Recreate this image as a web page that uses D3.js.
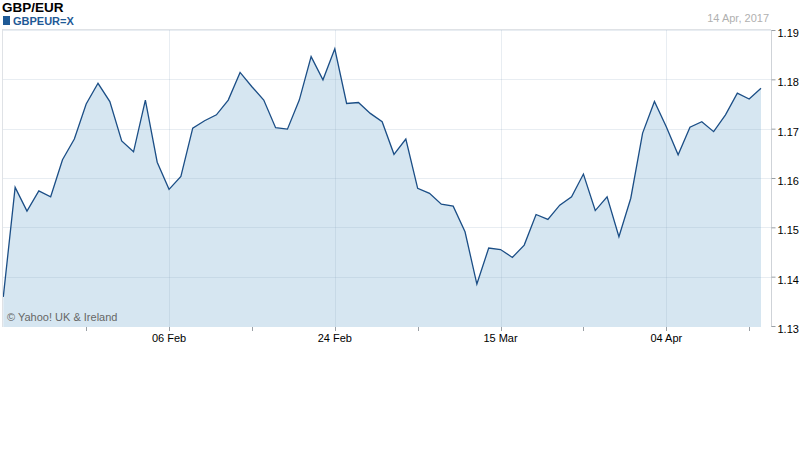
<!DOCTYPE html>
<html>
<head>
<meta charset="utf-8">
<script src="https://cdn.jsdelivr.net/npm/d3@7"></script>
<style>
  html, body { margin: 0; padding: 0; background: #fff; }
  svg { display: block; font-family: "Liberation Sans", Arial, sans-serif; }
</style>
</head>
<body>
<svg id="chart" width="800" height="475"></svg>
<script>
// ---- data ----
const title = "GBP/EUR";
const seriesName = "GBPEUR=X";
const dateLabel = "14 Apr, 2017";
const credit = "\u00A9 Yahoo! UK & Ireland";

// daily closes, index 0..64
const values = [
  1.1359, 1.1581, 1.1533, 1.1574, 1.1562, 1.1637, 1.1679, 1.1750, 1.1792, 1.1755,
  1.1675, 1.1653, 1.1758, 1.1632, 1.1577, 1.1603, 1.1701, 1.1716, 1.1728, 1.1758,
  1.1814, 1.1785, 1.1758, 1.1702, 1.1699, 1.1758, 1.1846, 1.1799, 1.1862, 1.1751,
  1.1753, 1.1731, 1.1714, 1.1648, 1.1679, 1.1579, 1.1569, 1.1547, 1.1543, 1.1491,
  1.1385, 1.1458, 1.1455, 1.1439, 1.1464, 1.1526, 1.1516, 1.1545, 1.1562, 1.1608,
  1.1534, 1.1562, 1.1481, 1.1559, 1.1691, 1.1755, 1.1704, 1.1647, 1.1703, 1.1714,
  1.1694, 1.1728, 1.1772, 1.1760, 1.1782
];

const yTicks = [1.13, 1.14, 1.15, 1.16, 1.17, 1.18, 1.19];
const xMinorTicks = [7, 14, 21, 28, 35, 42, 49, 56, 63];
const xLabelTicks = [14, 28, 42, 56];
const xLabels = ["06 Feb", "24 Feb", "15 Mar", "04 Apr"];

// ---- drawing ----
const svg = d3.select("#chart");
const plot = { left: 3, right: 771, top: 30, bottom: 326 };

const x = d3.scaleLinear().domain([0, values.length - 1]).range([3.3, 761]);
const y = d3.scaleLinear().domain([1.13, 1.19]).range([plot.bottom, plot.top]);

// header
svg.append("text").attr("x", 2).attr("y", 12)
  .attr("font-size", 13.5).attr("font-weight", "bold").attr("fill", "#000")
  .text(title);
svg.append("rect").attr("x", 3).attr("y", 16).attr("width", 7).attr("height", 9)
  .attr("fill", "#1f5a96");
svg.append("text").attr("x", 13).attr("y", 24.5)
  .attr("font-size", 11).attr("font-weight", "bold").attr("fill", "#1f5a96")
  .text(seriesName);
svg.append("text").attr("x", 769).attr("y", 22).attr("text-anchor", "end")
  .attr("font-size", 11).attr("fill", "#b0b0b0")
  .text(dateLabel);

// area + line
const area = d3.area()
  .x((d, i) => x(i))
  .y0(plot.bottom + 1)
  .y1(d => y(d));
const line = d3.line()
  .x((d, i) => x(i))
  .y(d => y(d));

svg.append("path").datum(values).attr("d", area).attr("fill", "#d6e6f1");

// grid (semi-transparent so it darkens over the area)
const grid = svg.append("g").attr("stroke", "rgba(140,165,190,0.2)").attr("stroke-width", 1);
grid.selectAll("line.h").data(yTicks.slice(1)).join("line")
  .attr("x1", plot.left).attr("x2", plot.right)
  .attr("y1", d => Math.round(y(d)) + 0.5).attr("y2", d => Math.round(y(d)) + 0.5);
grid.selectAll("line.v").data(xLabelTicks).join("line")
  .attr("x1", d => Math.round(x(d)) + 0.5).attr("x2", d => Math.round(x(d)) + 0.5)
  .attr("y1", plot.top).attr("y2", plot.bottom + 1);

svg.append("path").datum(values).attr("d", line)
  .attr("fill", "none").attr("stroke", "#1b4e86").attr("stroke-width", 1.3)
  .attr("stroke-linejoin", "miter");

// frame: top and left
svg.append("line").attr("x1", plot.left).attr("x2", plot.right)
  .attr("y1", plot.top - 0.5).attr("y2", plot.top - 0.5)
  .attr("stroke", "#dfe2e6");
svg.append("line").attr("x1", plot.left - 0.5).attr("x2", plot.left - 0.5)
  .attr("y1", plot.top - 1).attr("y2", plot.bottom + 1)
  .attr("stroke", "#dfe2e6");

// right y axis
const yAxis = d3.axisRight(y).tickValues(yTicks).tickFormat(d3.format(".2f"))
  .tickSize(4).tickPadding(2);
const gy = svg.append("g").attr("transform", `translate(${plot.right + 0.5},0)`).call(yAxis);
gy.select(".domain").attr("stroke", "#cfd3d8").attr("d", `M0,${plot.top}V${plot.bottom + 1}`);
gy.selectAll(".tick line").attr("stroke", "#9aa0a6");
gy.selectAll(".tick text").attr("font-size", 11).attr("fill", "#000")
  .attr("font-family", "Liberation Sans, Arial, sans-serif")
  .attr("dy", "0.6em");

// bottom x ticks
const xAxisG = svg.append("g");
xAxisG.selectAll("line.minor").data(xMinorTicks).join("line")
  .attr("x1", d => Math.round(x(d)) + 0.5).attr("x2", d => Math.round(x(d)) + 0.5)
  .attr("y1", plot.bottom + 1).attr("y2", plot.bottom + 5)
  .attr("stroke", "#9aa0a6");
xAxisG.selectAll("text").data(xLabelTicks).join("text")
  .attr("x", d => x(d)).attr("y", 342)
  .attr("text-anchor", "middle").attr("font-size", 11).attr("fill", "#000")
  .text((d, i) => xLabels[i]);

// credit
svg.append("text").attr("x", 7).attr("y", 321)
  .attr("font-size", 11).attr("fill", "#666")
  .text(credit);
</script>
</body>
</html>
